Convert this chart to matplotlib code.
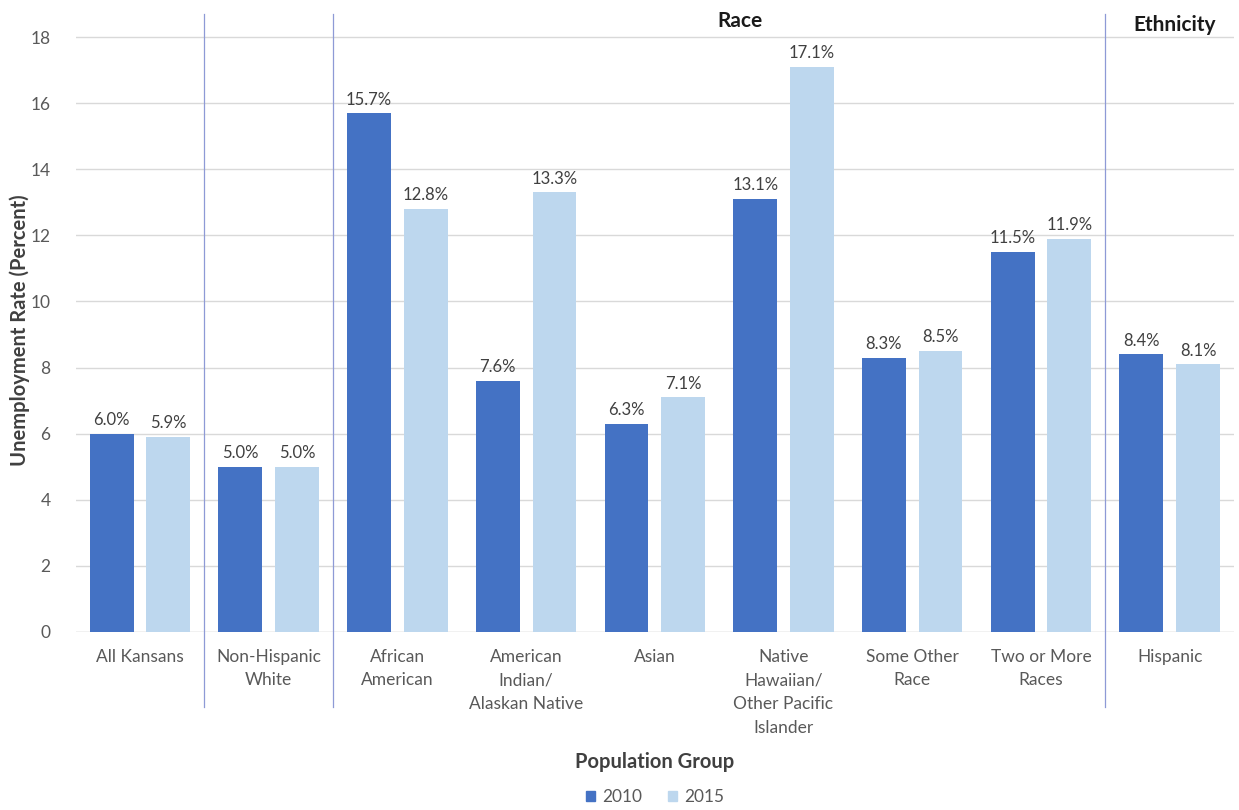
import matplotlib
matplotlib.use("Agg")
import matplotlib.pyplot as plt
import numpy as np
from matplotlib.patches import Patch

categories = ["All Kansans", "Non-Hispanic\nWhite", "African\nAmerican",
              "American\nIndian/\nAlaskan Native", "Asian",
              "Native\nHawaiian/\nOther Pacific\nIslander", "Some Other\nRace",
              "Two or More\nRaces", "Hispanic"]
values_2010 = [6.0, 5.0, 15.7, 7.6, 6.3, 13.1, 8.3, 11.5, 8.4]
values_2015 = [5.9, 5.0, 12.8, 13.3, 7.1, 17.1, 8.5, 11.9, 8.1]
series_names = ["2010", "2015"]
yticks = [0, 2, 4, 6, 8, 10, 12, 14, 16, 18]
separators = [0.5, 1.5, 7.5]

plt.rcParams['font.family'] = ['Lato', 'DejaVu Sans']

c2010 = "#4472C4"
c2015 = "#BDD7EE"
txt = "#595959"

fig = plt.figure(figsize=(12.39, 8.10), dpi=100)
ax = fig.add_axes([0.061, 0.2198, 0.935, 0.763])

x = np.arange(len(categories))
w = 0.34
off = 0.22
b1 = ax.bar(x - off, values_2010, w, color=c2010, zorder=2)
b2 = ax.bar(x + off, values_2015, w, color=c2015, zorder=2)

for bars, vals in ((b1, values_2010), (b2, values_2015)):
    for b, v in zip(bars, vals):
        ax.annotate(f"{v:.1f}%", (b.get_x() + b.get_width() / 2, v),
                    xytext=(0, 4), textcoords="offset points",
                    ha="center", va="bottom", fontsize=12, color="#404040")

ax.set_xlim(-0.5, len(categories) - 0.5)
ax.set_ylim(0, 18.7)
ax.set_yticks(yticks)
ax.set_xticks(x)
ax.set_xticklabels(categories, fontsize=12.5, color=txt, linespacing=1.6)
ax.tick_params(axis='x', length=0, pad=12)
ax.tick_params(axis='y', length=0, pad=18, labelsize=12.5, labelcolor=txt)
ax.yaxis.grid(True, color="#D9D9D9", linewidth=1, zorder=0)
for s in ax.spines.values():
    s.set_visible(False)
ax.axhline(0, color="#D9D9D9", linewidth=1, zorder=1)

for sx in separators:
    ax.plot([sx, sx], [-2.27, 18.7], color="#8E9AD6", linewidth=0.9,
            clip_on=False, zorder=3)

ax.text(4.66, 18.5, "Race", ha="center", va="center", fontsize=15,
        fontweight="bold", color="#1a1a1a")
ax.text(8.04, 18.35, "Ethnicity", ha="center", va="center", fontsize=15,
        fontweight="bold", color="#1a1a1a")

fig.text(20 / 1239, 1 - 330 / 810, "Unemployment Rate (Percent)", rotation=90,
         ha="center", va="center", fontsize=14.5, fontweight="bold",
         color="#404040")
fig.text(655 / 1239, 1 - 762 / 810, "Population Group", ha="center",
         va="center", fontsize=14.5, fontweight="bold", color="#404040")

handles = [Patch(color=c2010), Patch(color=c2015)]
fig.legend(handles, series_names, loc="center",
           bbox_to_anchor=(655 / 1239, 1 - 797 / 810),
           ncol=2, frameon=False, fontsize=12.4, handlelength=0.55,
           handleheight=0.55, handletextpad=0.4, columnspacing=1.5,
           labelcolor=txt)

fig.savefig("out.png", dpi=100, facecolor="white")
